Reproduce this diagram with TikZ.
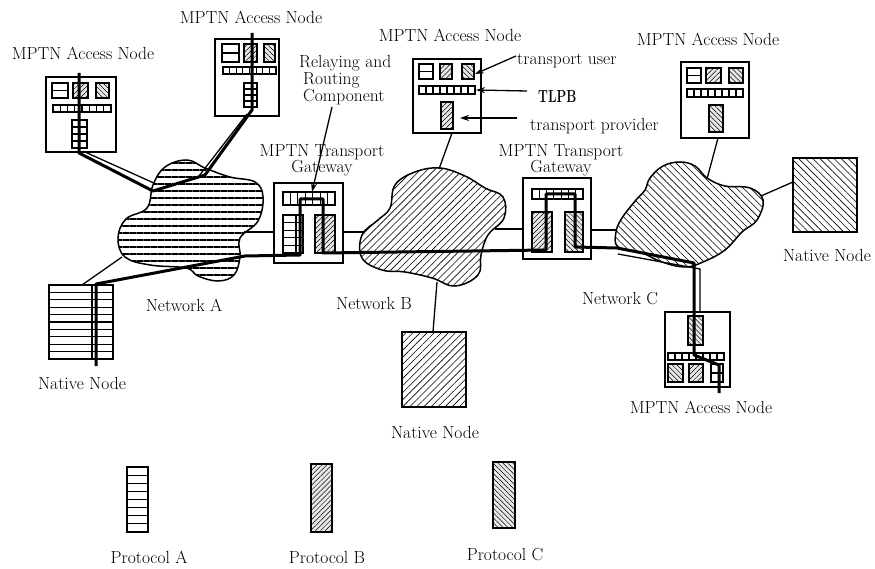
\documentclass[tikz,border=0pt]{standalone}
\usepackage{fontspec}
\usetikzlibrary{patterns.meta,arrows.meta}
\tikzset{
  box/.style={draw, line width=1.4pt, inner sep=0pt, outer sep=0pt, anchor=north west},
  comp/.style={draw, line width=1.2pt},
  cellline/.style={line width=1.1pt},
  protB/.style={draw, line width=1.2pt, preaction={fill=gray!18}, pattern={Lines[angle=45,distance=3.5pt,line width=0.5pt]}},
  protC/.style={draw, line width=1.2pt, preaction={fill=gray!18}, pattern={Lines[angle=-45,distance=3.5pt,line width=0.5pt]}},
  netA/.style={draw, line width=1.5pt, pattern={Lines[angle=0,distance=7pt,line width=1.2pt]}},
  netB/.style={draw, line width=1.5pt, pattern={Lines[angle=45,distance=5pt,line width=0.6pt]}},
  netC/.style={draw, line width=1.5pt, pattern={Lines[angle=-45,distance=5pt,line width=0.6pt]}},
  link/.style={line width=1.3pt},
  datapath/.style={line width=3pt, line join=round},
  lbl/.style={font=\fontsize{17.5}{17}\selectfont, inner sep=0pt},
  arr/.style={line width=1.3pt, -{Stealth[length=9pt,width=6pt]}},
}
\newcommand\hcells[5]{%
  \draw[comp] (#1,#2) rectangle (#3,#4);
  \pgfmathsetmacro\hstep{(#4-#2)/(#5+1)}
  \foreach \k in {1,...,#5} \draw[cellline] (#1,{#2+\k*\hstep}) -- (#3,{#2+\k*\hstep});
}
\newcommand\vcells[5]{%
  \draw[comp] (#1,#2) rectangle (#3,#4);
  \pgfmathsetmacro\vstep{(#3-#1)/(#5+1)}
  \foreach \k in {1,...,#5} \draw[cellline] ({#1+\k*\vstep},#2) -- ({#1+\k*\vstep},#4);
}
\begin{document}
\begin{tikzpicture}[x=1pt,y=-1pt]
\fill[white] (0,0) rectangle (875,569);
\useasboundingbox (0,0) rectangle (875,569);

% ---------------- networks (clouds) ----------------
\draw[netA] plot[smooth cycle, tension=0.65] coordinates {(153,185) (165,167) (187,160) (205,168) (230,177) (255,182) (263,197) (258,221) (240,238) (240,257) (234,275) (218,281) (198,276) (186,268) (150,265) (125,257) (118,238) (126,219) (147,208)};
\draw[netB] plot[smooth cycle, tension=0.65] coordinates {(395,185) (415,172) (440,168) (465,176) (485,188) (503,197) (504,218) (488,235) (481,255) (478,275) (455,286) (432,278) (405,272) (382,270) (362,258) (362,235) (378,220) (390,208)};
\draw[netC] plot[smooth cycle, tension=0.65] coordinates {(650,178) (663,166) (680,162) (695,166) (707,178) (725,186) (750,188) (763,200) (757,220) (742,232) (725,250) (703,262) (685,267) (662,262) (640,252) (618,247) (616,232) (622,218) (636,200) (645,190)};

% ---------------- access node 1 ----------------
\node[box, minimum width=70pt, minimum height=75pt] (an1) at (46,77) {};
\hcells{52}{83}{68}{98}{1}
\draw[protB] (73,83) rectangle (88,98);
\draw[protC] (96,83) rectangle (109,98);
\vcells{53}{105}{111}{112}{7}
\hcells{72}{120}{87}{148}{3}
\node[lbl] (an1l) at (83,53) {MPTN Access Node};

% ---------------- access node 2 ----------------
\node[box, minimum width=64pt, minimum height=77pt] (an2) at (215,39) {};
\hcells{222}{44}{239}{62}{1}
\draw[protB] (244,44) rectangle (257,62);
\draw[protC] (264,44) rectangle (275,62);
\vcells{223}{67}{276}{74}{7}
\hcells{244}{83}{257}{107}{3}
\node[lbl] (an2l) at (251,17) {MPTN Access Node};

% ---------------- access node 3 ----------------
\node[box, minimum width=68pt, minimum height=74pt] (an3) at (413,59) {};
\hcells{419}{64}{433}{79}{1}
\draw[protB] (440,64) rectangle (452,79);
\draw[protC] (462,64) rectangle (474,79);
\vcells{419}{86}{475}{94}{7}
\draw[protB] (441,102) rectangle (453,129);
\node[lbl] (an3l) at (450,35) {MPTN Access Node};

% ---------------- access node 5 ----------------
\node[box, minimum width=68pt, minimum height=76pt] (an5) at (681,62) {};
\hcells{687}{68}{701}{83}{1}
\draw[protB] (706,68) rectangle (721,83);
\draw[protC] (729,68) rectangle (743,83);
\vcells{687}{89}{743}{97}{7}
\draw[protC] (709,105) rectangle (723,132);
\node[lbl] (an5l) at (708,39) {MPTN Access Node};

% ---------------- access node 6 ----------------
\node[box, minimum width=65pt, minimum height=75pt] (an6) at (665,312) {};
\draw[protC] (688,316) rectangle (703,345);
\vcells{668}{353}{724}{360}{7}
\draw[protC] (668,364) rectangle (683,382);
\draw[protB] (689,364) rectangle (703,382);
\hcells{711}{364}{723}{382}{1}
\node[lbl] (an6l) at (701,407) {MPTN Access Node};

% ---------------- gateways ----------------
\node[box, minimum width=69pt, minimum height=80pt] (gw1) at (274,183) {};
\vcells{283}{192}{335}{205}{6}
\hcells{283}{215}{303}{253}{4}
\draw[cellline] (296,215) -- (296,253);
\draw[protB] (315,215) rectangle (335,253);
\node[lbl, align=center, font=\fontsize{17.5}{16}\selectfont] (gw1l) at (322,160) {MPTN Transport\\Gateway};

\node[box, minimum width=68pt, minimum height=81pt] (gw2) at (523,178) {};
\vcells{532}{189}{583}{199}{6}
\draw[protB] (532,212) rectangle (552,252);
\draw[protC] (565,212) rectangle (583,252);
\node[lbl, align=center, font=\fontsize{17.5}{16}\selectfont] (gw2l) at (561,160) {MPTN Transport\\Gateway};

% ---------------- native nodes ----------------
\node[box, minimum width=64pt, minimum height=74pt] (nA) at (49,285) {};
\hcells{49}{285}{113}{359}{9}
\draw[cellline] (92,285) -- (92,359);
\node[lbl] (nAl) at (82,383) {Native Node};

\node[box, minimum width=64pt, minimum height=75pt, pattern={Lines[angle=45,distance=5pt,line width=0.6pt]}] (nB) at (402,332) {};
\node[lbl] (nBl) at (435,432) {Native Node};

\node[box, minimum width=64pt, minimum height=74pt, pattern={Lines[angle=-45,distance=5pt,line width=0.6pt]}] (nC) at (793,158) {};
\node[lbl] (nCl) at (827,255) {Native Node};

% ---------------- network labels ----------------
\node[lbl] (netAl) at (184,305) {Network A};
\node[lbl] (netBl) at (374,303) {Network B};
\node[lbl] (netCl) at (620,299) {Network C};

% ---------------- attachment links ----------------
\coordinate (cAr) at (244,232);  \coordinate (g1l) at (274,232);
\coordinate (g1r) at (343,232);  \coordinate (cBl) at (364,232);
\coordinate (cBr) at (495,229);  \coordinate (g2l) at (523,229);
\coordinate (g2r) at (591,230);  \coordinate (cCl) at (617,230);
\draw[link] (cAr) -- (g1l);
\draw[link] (g1r) -- (cBl);
\draw[link] (cBr) -- (g2l);
\draw[link] (g2r) -- (cCl);
\coordinate (nAt) at (82,285);   \coordinate (cAbl) at (122,257);
\draw[link] (nAt) -- (cAbl);
\coordinate (an3b) at (452,133); \coordinate (cBt) at (439,169);
\draw[link] (an3b) -- (cBt);
\coordinate (cBb) at (437,282);  \coordinate (nBt) at (433,332);
\draw[link] (cBb) -- (nBt);
\coordinate (an5b) at (718,138); \coordinate (cCt) at (707,179);
\draw[link] (an5b) -- (cCt);
\coordinate (cCr) at (761,196);  \coordinate (nCl2) at (793,182);
\draw[link] (cCr) -- (nCl2);

% double-line companions
\draw[link] (85,152) -- (156,184);
\draw[link] (247,114) -- (199,176);
\draw[link] (618,254) -- (700,269) -- (700,312);

% ---------------- data paths ----------------
\coordinate (a1t) at (79,73);   \coordinate (a1b) at (79,153);
\coordinate (cAa) at (153,191); \coordinate (cAb) at (205,175);
\coordinate (a2b) at (252,110); \coordinate (a2t) at (252,33);
\draw[datapath] (a1t) -- (a1b) -- (cAa) -- (cAb) -- (a2b) -- (a2t);

\coordinate (nAb) at (96,366);  \coordinate (nAtop) at (96,284);
\coordinate (q1) at (245,256);  \coordinate (q2) at (300,255);
\coordinate (q3) at (300,199);  \coordinate (q4) at (323,199);
\coordinate (q5) at (323,253);  \coordinate (q6) at (546,250);
\coordinate (q7) at (546,194);  \coordinate (q8) at (575,194);
\coordinate (q9) at (575,247);  \coordinate (q10) at (617,248);
\coordinate (q11) at (694,263); \coordinate (q12) at (694,355);
\coordinate (q13) at (719,365); \coordinate (q14) at (719,393);
\draw[datapath] (nAb) -- (nAtop) -- (q1) -- (q2) -- (q3) -- (q4) -- (q5) -- (q6) -- (q7) -- (q8) -- (q9) -- (q10) -- (q11) -- (q12) -- (q13) -- (q14);

% ---------------- annotations ----------------
\node[lbl, align=left, anchor=west] (relay) at (299,80) {Relaying and\\\hspace*{4pt}Routing\\\hspace*{4pt}Component};
\coordinate (relayfoot) at (332,107); \coordinate (relaytip) at (312,192);
\draw[arr] (relayfoot) -- (relaytip);

\node[lbl, anchor=west] (tuser) at (517,61) {transport user};
\coordinate (tuA) at (516,56); \coordinate (tuB) at (475,74);
\draw[arr] (tuA) -- (tuB);

\node[lbl, anchor=west] (tlpb) at (538,97) {\scalebox{0.72}[1]{\bfseries TLPB}};
\coordinate (tlA) at (527,91); \coordinate (tlB) at (476,90);
\draw[arr] (tlA) -- (tlB);

\node[lbl, anchor=west] (tprov) at (530,126) {transport provider};
\coordinate (tpA) at (517,118); \coordinate (tpB) at (460,118);
\draw[arr] (tpA) -- (tpB);

% ---------------- legend ----------------
\hcells{127}{467}{148}{532}{7}
\node[lbl] (legAl) at (149,557) {Protocol A};
\draw[protB] (311,464) rectangle (332,532);
\node[lbl] (legBl) at (327,557) {Protocol B};
\draw[protC] (493,462) rectangle (515,528);
\node[lbl] (legCl) at (505,555) {Protocol C};
\end{tikzpicture}
\end{document}
